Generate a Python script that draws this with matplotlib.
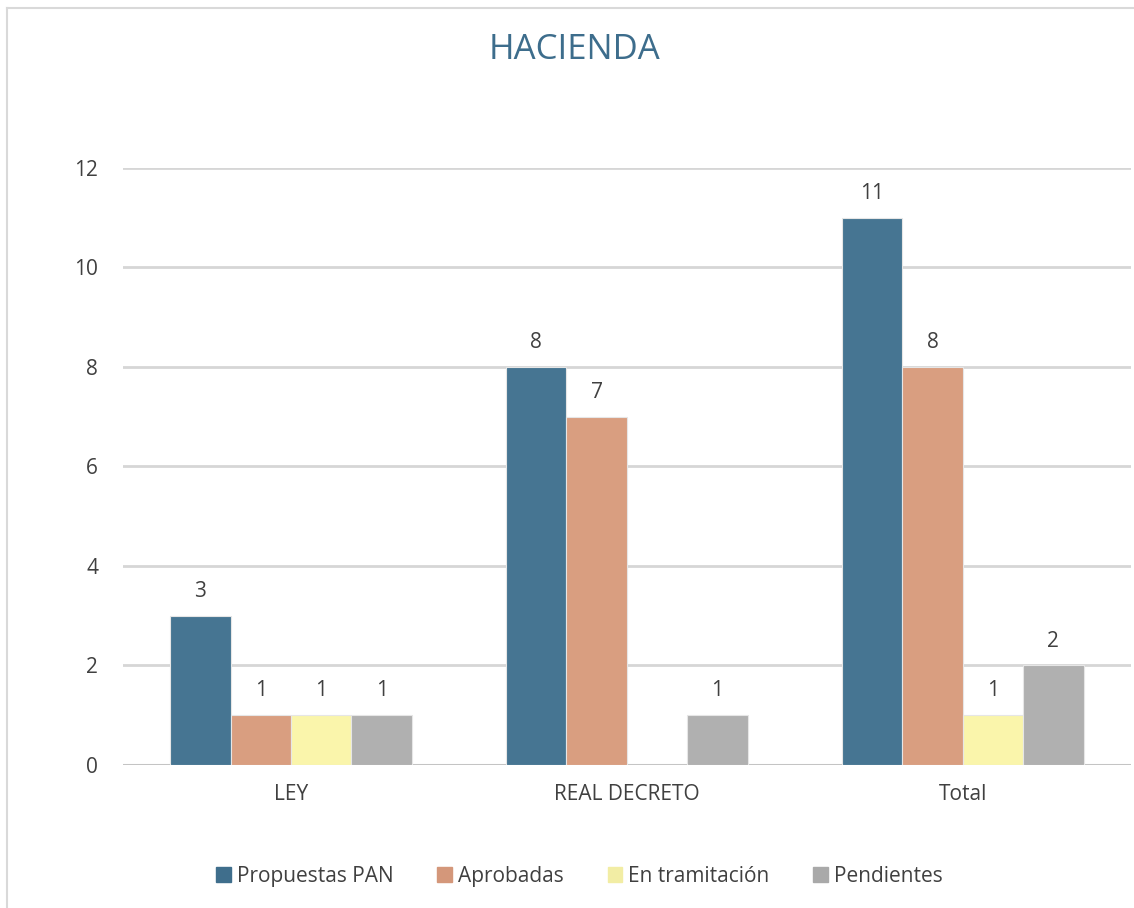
import matplotlib
matplotlib.use("Agg")
import matplotlib.pyplot as plt
from matplotlib.lines import Line2D
import numpy as np

categories = ["LEY", "REAL DECRETO", "Total"]
series_names = ["Propuestas PAN", "Aprobadas", "En tramitación", "Pendientes"]
propuestas = [3, 8, 11]
aprobadas = [1, 7, 8]
tramitacion = [1, 0, 1]
pendientes = [1, 1, 2]
yticks = [0, 2, 4, 6, 8, 10, 12]

values = [propuestas, aprobadas, tramitacion, pendientes]
colors = ["#467592", "#d99e80", "#faf5ab", "#b0b0b0"]
legend_colors = ["#3f6e8c", "#d4977a", "#f2eda4", "#a9a9a9"]
text_color = "#404040"

plt.rcParams['font.family'] = ['Open Sans', 'DejaVu Sans']

fig = plt.figure(figsize=(11.34, 9.08), dpi=100)
ax = fig.add_axes([0.1085, 0.1575, 0.8885, 0.6575])

x = np.arange(len(categories))
w = 0.18
for i, (vals, c) in enumerate(zip(values, colors)):
    pos = x + (i - 1.5) * w
    ax.bar(pos, vals, width=w, color=c, edgecolor="#e6e6e6", linewidth=0.8, zorder=3)
    for p, v in zip(pos, vals):
        if v > 0:
            ax.text(p, v + 0.28, str(v), ha="center", va="bottom", fontsize=15, color=text_color)

ax.set_xlim(-0.5, 2.5)
ax.set_ylim(0, 12)
ax.set_yticks(yticks)
ax.set_yticklabels([str(t) for t in yticks])
ax.set_xticks(x)
ax.set_xticklabels(categories)
ax.tick_params(axis="both", length=0, labelsize=15, labelcolor=text_color)
ax.tick_params(axis="y", pad=18)
ax.tick_params(axis="x", pad=14)
for s in ax.spines.values():
    s.set_visible(False)
ax.yaxis.grid(True, color="#d6d6d6", linewidth=2.0, zorder=0)
ax.set_axisbelow(True)
ax.axhline(0, color="#c4c4c4", linewidth=2.2, zorder=2)

fig.text(0.507, 0.945, "HACIENDA", ha="center", va="center", fontsize=25, color="#3d6d8c")

handles = [plt.Rectangle((0, 0), 1, 1, color=c) for c in legend_colors]
fig.legend(handles, series_names, loc="center", bbox_to_anchor=(0.511, 0.035), ncol=4,
           frameon=False, fontsize=15, labelcolor=text_color, handlelength=0.7,
           handleheight=0.7, handletextpad=0.3, columnspacing=2.1)

fig.add_artist(Line2D([0.006, 1.0], [1 - 8 / 908, 1 - 8 / 908], transform=fig.transFigure,
                      color="#d9d9d9", linewidth=1.5))
fig.add_artist(Line2D([0.0065, 0.0065], [0, 1 - 8 / 908], transform=fig.transFigure,
                      color="#d9d9d9", linewidth=1.5))

fig.savefig("out.png", dpi=100, facecolor="white")
